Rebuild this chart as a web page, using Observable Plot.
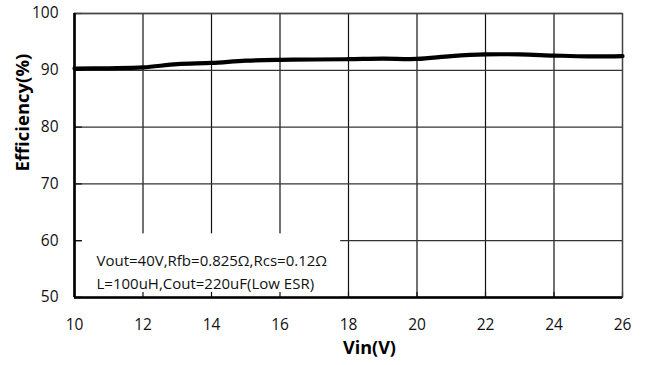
<!DOCTYPE html>
<html><head><meta charset="utf-8">
<script src="https://cdn.jsdelivr.net/npm/d3@7"></script>
<script src="https://cdn.jsdelivr.net/npm/@observablehq/plot@0.6"></script>
<style>body{margin:0;background:#fff} #chart{width:646px;height:365px}</style>
</head><body><div id="chart"></div>
<script>
const vin = [10, 11, 12, 13, 14, 15, 16, 17, 18, 19, 20, 21, 22, 23, 24, 25, 26];
const efficiency = [90.3, 90.35, 90.5, 91.1, 91.3, 91.7, 91.85, 91.9, 91.95, 92.05, 92.0, 92.5, 92.8, 92.8, 92.6, 92.45, 92.5];
const xTicks = [10, 12, 14, 16, 18, 20, 22, 24, 26];
const yTicks = [50, 60, 70, 80, 90, 100];
const noteLines = ["Vout=40V,Rfb=0.825Ω,Rcs=0.12Ω", "L=100uH,Cout=220uF(Low ESR)"];
const noteBox = [{x1: 10.23, x2: 17.77, y1: 50, y2: 61.2}];
const xLabel = "Vin(V)";
const yLabel = "Efficiency(%)";

const data = vin.map((v, i) => ({vin: v, eff: efficiency[i]}));
const font = "'Open Sans', sans-serif";

const chart = Plot.plot({
  width: 646, height: 365,
  marginLeft: 74, marginRight: 24, marginTop: 13, marginBottom: 68,
  style: {fontFamily: font, background: "#fff", color: "#111"},
  x: {domain: [10, 26], label: null},
  y: {domain: [50, 100], label: null},
  marks: [
    Plot.gridX(xTicks, {stroke: "#111", strokeOpacity: 1, strokeWidth: 1.2}),
    Plot.gridY(yTicks, {stroke: "#333", strokeOpacity: 1, strokeWidth: 1.3}),
    Plot.rect(noteBox, {x1: "x1", x2: "x2", y1: "y1", y2: "y2", fill: "#fff"}),
    Plot.ruleX(xTicks, {x: d => d, y1: 50, y2: 50.9, stroke: "#111", strokeWidth: 1.2}),
    Plot.ruleY(yTicks, {y: d => d, x1: 10, x2: 10.23, stroke: "#111", strokeWidth: 1.2}),
    Plot.frame({stroke: "#444", strokeWidth: 1.3}),
    Plot.ruleX([10], {stroke: "#000", strokeWidth: 2.6}),
    Plot.ruleY([50], {stroke: "#000", strokeWidth: 2.6}),
    Plot.line(data, {x: "vin", y: "eff", curve: "catmull-rom", stroke: "#000", strokeWidth: 4.2}),
    Plot.text([noteLines.join("\n")], {frameAnchor: "bottom-left", textAnchor: "start", lineAnchor: "bottom", dx: 22, dy: -9, lineHeight: 1.5, fontSize: 15, fill: "#111"}),
    Plot.axisX(xTicks, {tickSize: 0, tickPadding: 21, fontSize: 15.5, label: null, fill: "#111"}),
    Plot.axisY(yTicks, {tickSize: 0, tickPadding: 16, fontSize: 15.5, label: null, fill: "#111"}),
    Plot.text([xLabel], {frameAnchor: "bottom", dx: 21, dy: 56, fontSize: 18, fontWeight: "bold", fill: "#000"}),
    Plot.text([yLabel], {frameAnchor: "left", dx: -51, dy: 16, rotate: -90, fontSize: 18.5, fontWeight: "bold", fill: "#000"})
  ]
});
document.getElementById("chart").append(chart);
</script>
</body></html>
